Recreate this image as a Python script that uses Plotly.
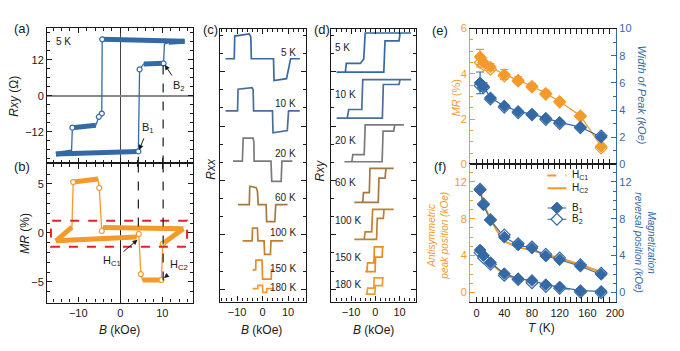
import plotly.graph_objects as go

W, H = 680, 351
FONT = "Arial, 'Liberation Sans', sans-serif"
BLUE = "#3569a6"
ORANGE = "#f39a2b"
BLACK = "#1a1a1a"
RED = "#e32222"

# ---------------- data ----------------
# (a) Hall resistance loop at 5 K  (B in kOe, Rxy in Ohm)
a_B = [15.3, -4.3, -4.4, -5.1, -5.8, -11.4, -11.6, -15.3, 4.3, 4.6, 5.6, 10.3, 10.5, 11.5, 15.3]
a_Rxy = [18.2, 18.8, -5.9, -7.0, -9.8, -10.6, -18.7, -19.4, -18.5, 8.8, 10.6, 10.8, 17.2, 17.8, 18.2]
a_plateaus = [(0, 1), (4, 5), (6, 7), (7, 8), (10, 11), (13, 14)]
a_circles = [1, 2, 3, 5, 8, 9, 11]

# (b) MR loop at 5 K (%)
b_B = [15.0, -4.1, -4.4, -5.0, -5.3, -11.0, -11.2, -11.5, -15.3, 3.9, 4.4, 4.9, 5.3, 9.8, 10.1, 15.0]
b_MR = [0.43, 0.55, 0.2, 4.6, 5.5, 5.3, 5.2, 0.6, -0.8, -0.4, -0.1, -4.2, -4.8, -4.8, -1.1, 0.43]
b_plateaus = [(0, 1), (4, 6), (7, 8), (8, 9), (12, 13), (14, 15)]
b_circles = [2, 3, 6, 10, 11, 13, 14]

# (c) Rxx curves (offset, arb. units)
temps = ["5 K", "10 K", "20 K", "60 K", "100 K", "150 K", "180 K"]
t_colors = ["#3569a6", "#4a6e98", "#7b7b7b", "#a8773f", "#c27f33", "#ee8a1f", "#f39a2b"]
c_B_5K = [-14.5, -11.1, -10.9, -5.2, -4.6, -4.4, 4.3, 4.5, 9.4, 10.0, 11.0, 14.6]
c_R_5K = [12.71, 12.71, 13.96, 14.08, 13.9, 12.71, 12.71, 11.51, 11.61, 12.0, 12.71, 12.71]
c_B_10K = [-14.5, -9.8, -9.6, -4.1, -3.7, -3.5, 3.9, 4.1, 9.7, 10.0, 10.2, 14.6]
c_R_10K = [9.83, 9.83, 11.03, 11.11, 11.0, 9.83, 9.83, 8.63, 8.75, 9.6, 9.83, 9.83]
c_B_20K = [-11.6, -7.9, -7.6, -3.7, -3.4, -3.3, 3.3, 3.6, 7.3, 7.6, 11.7]
c_R_20K = [7.06, 7.06, 8.33, 8.33, 8.1, 7.06, 7.06, 5.95, 5.95, 7.06, 7.06]
c_B_60K = [-9.6, -5.2, -5.0, -2.5, -2.0, -1.7, 1.4, 1.6, 4.8, 5.2, 9.8]
c_R_60K = [4.67, 4.67, 5.68, 5.6, 5.4, 4.67, 4.67, 3.73, 3.73, 4.67, 4.67]
c_B_100K = [-7.8, -4.1, -3.9, -2.0, -1.8, 0.6, 0.8, 3.1, 3.3, 8.1]
c_R_100K = [2.66, 2.66, 3.37, 3.37, 2.66, 2.66, 1.92, 1.92, 2.66, 2.66]
c_B_150K = [-3.9, -2.7, -2.6, -0.2, -0.1, 0.0, 3.4, 3.5, 4.3]
c_R_150K = [1.07, 1.07, 1.6, 1.6, 1.07, 0.56, 0.56, 1.07, 1.07]
c_B_180K = [-3.9, -1.9, -1.8, 0.0, 0.05, 0.1, 1.6, 1.7, 4.3]
c_R_180K = [0.03, 0.03, 0.21, 0.21, 0.03, -0.18, -0.18, 0.03, 0.03]

# (d) Rxy curves (offset, arb. units)
d_B_5K = [14.8, -4.2, -4.8, -6.2, -12.0, -12.4, -16.0, 3.5, 4.0, 9.8, 10.2, 14.8]
d_R_5K = [14.13, 14.13, 12.7, 12.45, 12.45, 11.97, 11.97, 11.97, 13.69, 13.69, 14.13, 14.13]
d_B_10K = [14.8, -5.2, -5.6, -11.0, -11.6, -16.0, 2.9, 3.3, 9.8, 10.2, 14.8]
d_R_10K = [11.56, 11.56, 9.91, 9.91, 9.43, 9.43, 9.43, 11.29, 11.29, 11.56, 11.56]
d_B_20K = [11.8, -4.2, -4.6, -9.3, -9.7, -12.8, 2.8, 3.2, 7.6, 8.0, 11.8]
d_R_20K = [9.06, 9.06, 7.42, 7.42, 7.03, 7.03, 7.03, 8.72, 8.72, 9.06, 9.06]
d_B_60K = [7.6, -2.2, -2.5, -4.9, -5.2, -8.7, 1.2, 1.5, 4.0, 4.4, 7.6]
d_R_60K = [6.66, 6.66, 5.33, 5.33, 4.79, 4.79, 4.79, 6.13, 6.13, 6.66, 6.66]
d_B_100K = [7.6, -1.1, -1.5, -4.2, -4.6, -8.7, 0.5, 0.8, 3.3, 3.6, 7.6]
d_R_100K = [4.40, 4.40, 3.16, 3.16, 2.75, 2.75, 2.75, 3.91, 3.91, 4.40, 4.40]
d_B_150K = [3.5, -0.4, -0.6, -3.2, -3.5, -4.2, -0.1, 0.1, 2.8, 3.0, 3.5]
d_R_150K = [2.34, 2.34, 1.45, 1.45, 0.97, 0.97, 0.97, 1.77, 1.77, 2.34, 2.34]
d_B_180K = [3.5, -0.5, -0.6, -3.2, -3.5, -4.0, -0.2, 0.0, 2.9, 3.1, 3.5]
d_R_180K = [0.62, 0.62, 0.06, 0.06, -0.27, -0.27, -0.27, 0.20, 0.20, 0.62, 0.62]

# (e), (f) temperature dependence
T = [5, 10, 20, 40, 60, 80, 100, 120, 150, 180]
e_MR_filled = [4.75, 4.5, 4.3, 3.97, 3.72, 3.45, 3.14, 2.78, 2.15, 0.8]
e_MR_open = [4.5, 4.4, 4.2, 3.9, 3.68, 3.42, 3.1, 2.75, 2.12, 0.72]
e_MR_err = [0.33, 0.2, 0.15, 0.22, 0.15, 0.13, 0.13, 0.0, 0.0, 0.0]
e_MR_err_open = [0.2, 0.12, 0.1, 0.1, 0.1, 0.1, 0.1, 0.0, 0.0, 0.0]
e_W_filled = [6.0, 5.75, 4.9, 4.3, 3.9, 3.7, 3.4, 3.1, 2.75, 2.0]
e_W_open = [5.8, 5.65, 4.8, 4.2, 3.8, 3.65, 3.3, 3.0, 2.7, 2.1]
e_W_err = [0.8, 0.25, 0.0, 0.0, 0.0, 0.0, 0.0, 0.0, 0.0, 0.0]
f_Hc1 = [4.2, 3.85, 3.2, 2.0, 1.45, 1.15, 0.75, 0.5, 0.15, 0.0]
f_Hc2 = [11.3, 9.7, 8.0, 5.65, 4.95, 4.55, 4.15, 3.7, 3.0, 2.2]
f_B1_filled = [4.6, 4.0, 3.25, 2.05, 1.5, 1.3, 0.85, 0.6, 0.2, 0.12]
f_B1_open = [4.3, 3.75, 3.05, 1.85, 1.4, 1.05, 0.65, 0.45, 0.05, -0.05]
f_B2_filled = [11.1, 9.5, 7.85, 6.0, 5.15, 4.8, 3.95, 3.55, 2.85, 1.95]
f_B2_open = [11.2, 9.6, 7.9, 6.25, 5.3, 4.95, 4.15, 3.75, 3.0, 2.1]

HC1_5K = 4.3
HC2_5K = 10.2

# ---------------- helpers ----------------
def xd(x0, x1):
    return [x0 / W, x1 / W]

def yd(top, bottom):
    return [1 - bottom / H, 1 - top / H]

def axis(domain, rng, dtick, minor, anchor, labels=True, mirror="allticks", color=BLACK,
         tick0=0, **kw):
    d = dict(domain=domain, range=rng, dtick=dtick, tick0=tick0, ticks="inside", ticklen=5,
             tickwidth=1, tickcolor=color,
             minor=dict(dtick=minor, tick0=tick0, ticks="inside", ticklen=3, tickcolor=color,
                        tickwidth=1, showgrid=False),
             showline=True, linecolor=color, linewidth=1.2, mirror=mirror, showgrid=False,
             zeroline=False, showticklabels=labels,
             tickfont=dict(family=FONT, size=11, color=color), anchor=anchor, fixedrange=True)
    d.update(kw)
    return d

fig = go.Figure()

def seg_xy(xs, ys, segs):
    X, Y = [], []
    for i, j in segs:
        X += xs[i:j + 1] + [None]
        Y += ys[i:j + 1] + [None]
    return X, Y

def loop_panel(xs, ys, segs, circles, color, xa, ya):
    fig.add_trace(go.Scatter(x=xs, y=ys, mode="lines", line=dict(color=color, width=1.3),
                             xaxis=xa, yaxis=ya, showlegend=False, hoverinfo="skip"))
    sx, sy = seg_xy(xs, ys, segs)
    fig.add_trace(go.Scatter(x=sx, y=sy, mode="lines", line=dict(color=color, width=5),
                             xaxis=xa, yaxis=ya, showlegend=False, hoverinfo="skip"))
    fig.add_trace(go.Scatter(x=[xs[i] for i in circles], y=[ys[i] for i in circles],
                             mode="markers",
                             marker=dict(symbol="circle", size=5, color="white",
                                         line=dict(color=color, width=1.2)),
                             xaxis=xa, yaxis=ya, showlegend=False, hoverinfo="skip"))

loop_panel(a_B, a_Rxy, a_plateaus, a_circles, BLUE, "x", "y")
loop_panel(b_B, b_MR, b_plateaus, b_circles, ORANGE, "x2", "y2")

c_sets = [(c_B_5K, c_R_5K), (c_B_10K, c_R_10K), (c_B_20K, c_R_20K), (c_B_60K, c_R_60K),
          (c_B_100K, c_R_100K), (c_B_150K, c_R_150K), (c_B_180K, c_R_180K)]
d_sets = [(d_B_5K, d_R_5K), (d_B_10K, d_R_10K), (d_B_20K, d_R_20K), (d_B_60K, d_R_60K),
          (d_B_100K, d_R_100K), (d_B_150K, d_R_150K), (d_B_180K, d_R_180K)]
for (xs, ys), col in zip(c_sets, t_colors):
    fig.add_trace(go.Scatter(x=xs, y=ys, mode="lines", line=dict(color=col, width=1.7),
                             xaxis="x3", yaxis="y3", showlegend=False, hoverinfo="skip"))
for (xs, ys), col in zip(d_sets, t_colors):
    fig.add_trace(go.Scatter(x=xs, y=ys, mode="lines", line=dict(color=col, width=1.7),
                             xaxis="x4", yaxis="y4", showlegend=False, hoverinfo="skip"))

# (e)
def mk(sym_fill, color, size=9):
    if sym_fill:
        return dict(symbol="diamond", size=size, color=color, line=dict(color=color, width=1))
    return dict(symbol="diamond", size=size, color="white", line=dict(color=color, width=1.2))

fig.add_trace(go.Scatter(x=T, y=e_MR_filled, mode="lines", line=dict(color=ORANGE, width=1.3),
                         xaxis="x5", yaxis="y5", showlegend=False, hoverinfo="skip"))
fig.add_trace(go.Scatter(x=T, y=e_MR_open, mode="markers", marker=mk(False, ORANGE),
                         error_y=dict(type="data", array=e_MR_err_open, color=ORANGE, thickness=1.2, width=4),
                         xaxis="x5", yaxis="y5", showlegend=False, hoverinfo="skip"))
fig.add_trace(go.Scatter(x=T, y=e_MR_filled, mode="markers", marker=mk(True, ORANGE),
                         error_y=dict(type="data", array=e_MR_err, color=ORANGE, thickness=1.2, width=4),
                         xaxis="x5", yaxis="y5", showlegend=False, hoverinfo="skip"))
fig.add_trace(go.Scatter(x=T, y=e_W_filled, mode="lines", line=dict(color=BLUE, width=1.3),
                         xaxis="x5", yaxis="y7", showlegend=False, hoverinfo="skip"))
fig.add_trace(go.Scatter(x=T, y=e_W_open, mode="markers", marker=mk(False, BLUE),
                         xaxis="x5", yaxis="y7", showlegend=False, hoverinfo="skip"))
fig.add_trace(go.Scatter(x=T, y=e_W_filled, mode="markers", marker=mk(True, BLUE),
                         error_y=dict(type="data", array=e_W_err, color=BLUE, thickness=1.2, width=4),
                         xaxis="x5", yaxis="y7", showlegend=False, hoverinfo="skip"))

# (f)
fig.add_trace(go.Scatter(x=T, y=f_Hc1, mode="lines", line=dict(color=ORANGE, width=2, dash="dash", shape="spline"),
                         xaxis="x6", yaxis="y6", showlegend=False, hoverinfo="skip"))
fig.add_trace(go.Scatter(x=T, y=f_Hc2, mode="lines", line=dict(color=ORANGE, width=2, shape="spline"),
                         xaxis="x6", yaxis="y6", showlegend=False, hoverinfo="skip"))
for yl in (f_B1_filled, f_B2_filled):
    fig.add_trace(go.Scatter(x=T, y=yl, mode="lines", line=dict(color=BLUE, width=1.1),
                             xaxis="x6", yaxis="y8", showlegend=False, hoverinfo="skip"))
for yl in (f_B1_open, f_B2_open):
    fig.add_trace(go.Scatter(x=T, y=yl, mode="markers", marker=mk(False, BLUE),
                             xaxis="x6", yaxis="y8", showlegend=False, hoverinfo="skip"))
for yl in (f_B1_filled, f_B2_filled):
    fig.add_trace(go.Scatter(x=T, y=yl, mode="markers", marker=mk(True, BLUE),
                             xaxis="x6", yaxis="y8", showlegend=False, hoverinfo="skip"))

# manual legend in (f) (positions as fractions of the axis box)
f_xr = [-9.4, 201.4]
f_yr = [-1.06, 13.9]
def fx(frac):
    return f_xr[0] + frac * (f_xr[1] - f_xr[0])
def fy(frac):
    return f_yr[0] + frac * (f_yr[1] - f_yr[0])
leg_rows = [("H<sub>C1</sub>", 0.92, "hc1"), ("H<sub>C2</sub>", 0.826, "hc2"),
            ("B<sub>1</sub>", 0.684, "b1"), ("B<sub>2</sub>", 0.602, "b2")]
leg_x = [fx(0.53), fx(0.66)]
leg_mid = fx(0.595)
for text, yf, kind in leg_rows:
    yy = fy(yf)
    if kind in ("hc1", "hc2"):
        fig.add_trace(go.Scatter(x=leg_x, y=[yy, yy], mode="lines",
                                 line=dict(color=ORANGE, width=2, dash="dash" if kind == "hc1" else "solid"),
                                 xaxis="x6", yaxis="y6", showlegend=False, hoverinfo="skip"))
    else:
        fig.add_trace(go.Scatter(x=leg_x, y=[yy, yy], mode="lines", line=dict(color=BLUE, width=1.1),
                                 xaxis="x6", yaxis="y6", showlegend=False, hoverinfo="skip"))
        fig.add_trace(go.Scatter(x=[leg_mid], y=[yy], mode="markers", marker=mk(kind == "b1", BLUE),
                                 xaxis="x6", yaxis="y6", showlegend=False, hoverinfo="skip"))
    fig.add_annotation(x=fx(0.685), y=yy, xref="x6", yref="y6", text=text, showarrow=False,
                       xanchor="left", yanchor="middle", font=dict(family=FONT, size=10, color=BLACK))

# ---------------- layout ----------------
A_X = xd(47.7, 195.7)
layout = dict(
    width=W, height=H, margin=dict(l=0, r=0, t=0, b=0),
    paper_bgcolor="white", plot_bgcolor="rgba(0,0,0,0)", showlegend=False,
    font=dict(family=FONT, size=11, color=BLACK),
    xaxis=axis(A_X, [-17.4, 17.4], 10, 2, "y", labels=False, zeroline=True, zerolinecolor="#444", zerolinewidth=1),
    yaxis=axis(yd(23, 163), [-22.5, 22.5], 12, 3, "x", zeroline=True, zerolinecolor="#888", zerolinewidth=1.5),
    xaxis2=axis(A_X, [-17.4, 17.4], 10, 2, "y2", zeroline=True, zerolinecolor=BLACK, zerolinewidth=1),
    yaxis2=axis(yd(163, 307), [-7.1, 7.1], 5, 1, "x2"),
    xaxis3=axis(xd(222.3, 309.3), [-16.8, 16.9], 10, 2, "y3"),
    yaxis3=axis(yd(24, 306), [-0.68, 14.34], 3, 1, "x3", labels=False),
    xaxis4=axis(xd(335, 420.7), [-18.3, 16.7], 10, 2, "y4"),
    yaxis4=axis(yd(24, 306), [-0.68, 14.34], 3, 1, "x4", labels=False),
    xaxis5=axis(xd(475.7, 623.3), f_xr, 40, 8, "y5", labels=False),
    yaxis5=axis(yd(23.3, 164), [0, 6], 2, 0.5, "x5", mirror=False, color=ORANGE),
    yaxis7=axis(yd(23.3, 164), [0, 10], 2, 1, "x5", mirror=False, color=BLUE,
                side="right", overlaying="y5"),
    xaxis6=axis(xd(475.7, 623.3), f_xr, 40, 8, "y6"),
    yaxis6=axis(yd(164, 306.7), f_yr, 4, 1, "x6", mirror=False, color=ORANGE),
    yaxis8=axis(yd(164, 306.7), f_yr, 4, 1, "x6", mirror=False, color=BLUE,
                side="right", overlaying="y6"),
)
fig.update_layout(**layout)

# shapes
shapes = [
    dict(type="rect", xref="x2", yref="y2", x0=-16.5, x1=15.9, y0=-1.4, y1=1.25,
         line=dict(color=RED, width=2, dash="dash")),
    dict(type="line", xref="x", yref="y", x0=HC1_5K, x1=HC1_5K, y0=-20.3, y1=-22.5,
         line=dict(color=BLACK, width=1.2, dash="dash")),
    dict(type="line", xref="x", yref="y", x0=HC2_5K, x1=HC2_5K, y0=10.1, y1=-22.5,
         line=dict(color=BLACK, width=1.2, dash="dash")),
    dict(type="line", xref="x2", yref="y2", x0=HC1_5K, x1=HC1_5K, y0=7.1, y1=-0.2,
         line=dict(color=BLACK, width=1.2, dash="dash")),
    dict(type="line", xref="x2", yref="y2", x0=HC2_5K, x1=HC2_5K, y0=7.1, y1=-4.95,
         line=dict(color=BLACK, width=1.2, dash="dash")),
]
fig.update_layout(shapes=shapes)

def pann(text, X, Y, size=11, color=BLACK, angle=0, xanchor="center"):
    fig.add_annotation(x=X / W, y=1 - Y / H, xref="paper", yref="paper", text=text,
                       showarrow=False, textangle=angle, xanchor=xanchor, yanchor="middle",
                       font=dict(family=FONT, size=size, color=color))

for lab, X, Y in [("(a)", 22, 23), ("(b)", 22, 166), ("(c)", 213, 24), ("(d)", 326, 24),
                  ("(e)", 445, 25), ("(f)", 445, 166)]:
    pann(lab, X, Y, size=13)

pann("<i>Rxy</i> (Ω)", 14, 93, size=12, angle=-90)
pann("<i>MR</i> (%)", 25, 235, size=12, angle=-90)
pann("<i>B</i> (kOe)", 121, 335, size=12)
pann("<i>Rxx</i>", 214, 168, size=12, angle=-90)
pann("<i>B</i> (kOe)", 265, 335, size=12)
pann("<i>Rxy</i>", 324, 170, size=12, angle=-90)
pann("<i>B</i> (kOe)", 378, 335, size=12)
pann("<i>MR</i> (%)", 461, 95, size=11, color=ORANGE, angle=-90)
pann("<i>Width of Peak (kOe)</i>", 650, 92, size=11, color=BLUE, angle=90)
pann("<i>Antisymmetric<br>peak position (kOe)</i>", 443, 238, size=10, color=ORANGE, angle=-90)
pann("<i>Magnetization<br>reversal position (kOe)</i>", 653, 245, size=10, color=BLUE, angle=90)
pann("<i>T</i> (K)", 548, 333, size=12)

# in-panel texts
fig.add_annotation(x=-13.6, y=18.1, xref="x", yref="y", text="5 K", showarrow=False,
                   font=dict(family=FONT, size=10, color=BLACK))
arrow_font = dict(family=FONT, size=11, color=BLACK)
for text, xa, ya, hx, hy, tx, ty in [
    ("B<sub>2</sub>", "x", "y", 10.6, 10.3, 13.9, 3.4),
    ("B<sub>1</sub>", "x", "y", 4.5, -18.0, 6.6, -10.7),
    ("H<sub>C1</sub>", "x2", "y2", 4.1, -0.7, -2.0, -2.9),
    ("H<sub>C2</sub>", "x2", "y2", 10.4, -4.6, 14.0, -3.3),
]:
    fig.add_annotation(x=hx, y=hy, xref=xa, yref=ya, ax=tx, ay=ty, axref=xa, ayref=ya,
                       text=text, showarrow=True, arrowhead=2, arrowsize=1, arrowwidth=1,
                       arrowcolor=BLACK, font=arrow_font, standoff=0, startstandoff=2)

c_label_y = [13.06, 10.26, 7.47, 5.06, 3.1, 1.15, 0.09]
d_label_y = [13.33, 10.72, 8.18, 5.86, 3.81, 1.77, 0.27]
for t, yy in zip(temps, c_label_y):
    fig.add_annotation(x=13.8, y=yy, xref="x3", yref="y3", text=t, showarrow=False,
                       xanchor="right", yanchor="middle", font=dict(family=FONT, size=10, color="#222"))
for t, yy in zip(temps, d_label_y):
    fig.add_annotation(x=-17.3, y=yy, xref="x4", yref="y4", text=t, showarrow=False,
                       xanchor="left", yanchor="middle", font=dict(family=FONT, size=10, color="#222"))

fig.write_html("out.html")
